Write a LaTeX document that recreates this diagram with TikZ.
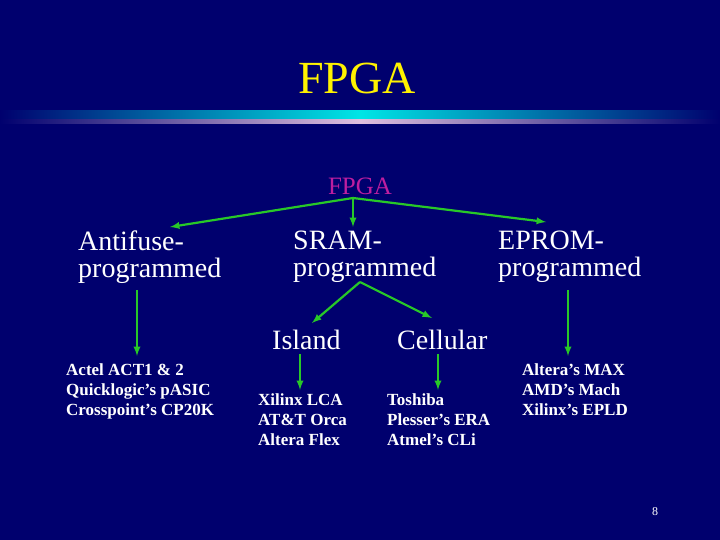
\documentclass[tikz,border=0pt]{standalone}
\usepackage{fontspec}
\setmainfont{Liberation Serif}
\begin{document}
\begin{tikzpicture}[x=1pt,y=-1pt,
 lbl/.style={text=white,font=\fontsize{28}{27}\selectfont,align=left,inner sep=0pt},
 sm/.style={text=white,font=\bfseries\fontsize{17}{20}\selectfont,align=left,inner sep=0pt},
 arr/.style={draw={rgb,255:red,40;green,200;blue,40},line width=2.2pt,-latex}]
\definecolor{bg}{RGB}{0,0,110}
\fill[bg] (0,0) rectangle (720,540);
\useasboundingbox (0,0) rectangle (720,540);
\shade[left color=bg,right color=bg,middle color=cyan!80!teal] (0,111) rectangle (720,119);
\shade[left color=bg,right color=bg,middle color=violet!25] (0,120) rectangle (720,124);
\node[text=yellow,font=\fontsize{46}{46}\selectfont] (t) at (357,78) {FPGA};
\node[text={rgb,255:red,190;green,30;blue,160},font=\fontsize{25}{25}\selectfont,inner sep=0pt] (f) at (360,186) {FPGA};
\coordinate (ap) at (353,198);
\node[lbl,anchor=north west] (a) at (78,231) {Antifuse-\\programmed};
\node[lbl,anchor=north west] (s) at (293,231) {SRAM-\\programmed};
\node[lbl,anchor=north west] (e) at (498,231) {EPROM-\\programmed};
\node[lbl,anchor=north west] (i) at (272,330) {Island};
\node[lbl,anchor=north west] (c) at (397,330) {Cellular};
\node[sm,anchor=north west] (a1) at (66,364) {Actel ACT1 \& 2\\Quicklogic’s pASIC\\Crosspoint’s CP20K};
\node[sm,anchor=north west] (i1) at (258,394) {Xilinx LCA\\AT\&T Orca\\Altera Flex};
\node[sm,anchor=north west] (c1) at (387,394) {Toshiba\\Plesser’s ERA\\Atmel’s CLi};
\node[sm,anchor=north west] (e1) at (522,364) {Altera’s MAX\\AMD’s Mach\\Xilinx’s EPLD};
\node[text=white,font=\fontsize{12}{12}\selectfont] (p) at (655,512) {8};
\coordinate (ae) at (170,227);
\coordinate (se) at (353,227);
\coordinate (ee) at (546,222);
\draw[arr] (ap) -- (ae);
\draw[arr] (ap) -- (se);
\draw[arr] (ap) -- (ee);
\coordinate (a0) at (137,290); \coordinate (a2) at (137,356);
\draw[arr] (a0) -- (a2);
\coordinate (s0) at (360,282); \coordinate (s1) at (312,323); \coordinate (s2) at (432,318);
\draw[arr] (s0) -- (s1); \draw[arr] (s0) -- (s2);
\coordinate (i0) at (300,354); \coordinate (i2) at (300,390);
\draw[arr] (i0) -- (i2);
\coordinate (c0) at (438,354); \coordinate (c2) at (438,390);
\draw[arr] (c0) -- (c2);
\coordinate (e0) at (568,290); \coordinate (e2) at (568,356);
\draw[arr] (e0) -- (e2);
\end{tikzpicture}
\end{document}
